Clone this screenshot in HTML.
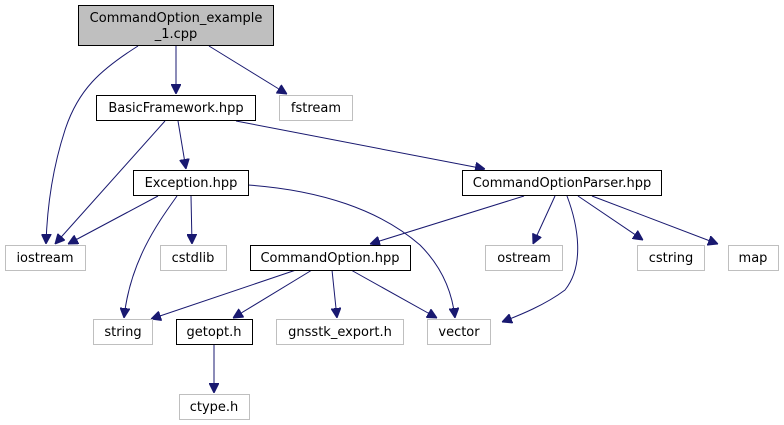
<!DOCTYPE html>
<html><head><meta charset="utf-8"><style>
html,body{margin:0;padding:0;background:#fff;}
svg{display:block;}
text{font-family:"DejaVu Sans","Liberation Sans",sans-serif;font-size:13px;fill:#000;}
</style></head><body>
<svg width="784" height="425" viewBox="0 0 784 425" xmlns="http://www.w3.org/2000/svg">
<defs>
<marker id="a" viewBox="0 0 10 10" refX="10" refY="5" markerWidth="10" markerHeight="10" markerUnits="userSpaceOnUse" orient="auto">
<path d="M0,0 L10,5 L0,10 z" fill="#191970" stroke="#191970"/>
</marker>
</defs>
<g fill="none" stroke="#191970" stroke-width="1" marker-end="url(#a)">
<path d="M138,46 C100,70 78,90 65,130 C52,170 47,210 46,244"/>
<path d="M176,46 L176,94"/>
<path d="M209,46 L287,94"/>
<path d="M165,121 L55,244"/>
<path d="M178,121 L186,169"/>
<path d="M236,121 L485,169"/>
<path d="M158,196 L68,244"/>
<path d="M177,196 C160,220 130,260 124,318"/>
<path d="M191,196 L192,244"/>
<path d="M248,185 C320,190 380,210 420,245 C440,265 452,290 455,318"/>
<path d="M524,196 L370,244"/>
<path d="M555,196 L533,244"/>
<path d="M567,196 C578,225 585,265 565,290 C545,305 520,315 502,322"/>
<path d="M578,196 L643,240"/>
<path d="M592,196 L718,244"/>
<path d="M296,270 L151,319"/>
<path d="M312,270 L233,318"/>
<path d="M332,270 L337,318"/>
<path d="M351,270 L437,318"/>
<path d="M214,345 L214,393"/>
</g>
<g stroke-width="1">
<rect x="78.5" y="5.5" width="195" height="40" fill="#bfbfbf" stroke="#000"/>
<rect x="96.5" y="95.5" width="159" height="25" fill="#fff" stroke="#000"/>
<rect x="279.5" y="95.5" width="73" height="25" fill="#fff" stroke="#bfbfbf"/>
<rect x="133.5" y="170.5" width="115" height="25" fill="#fff" stroke="#000"/>
<rect x="462.5" y="170.5" width="199" height="25" fill="#fff" stroke="#000"/>
<rect x="5.5" y="245.5" width="80" height="25" fill="#fff" stroke="#bfbfbf"/>
<rect x="160.5" y="245.5" width="66" height="25" fill="#fff" stroke="#bfbfbf"/>
<rect x="250.5" y="245.5" width="160" height="25" fill="#fff" stroke="#000"/>
<rect x="485.5" y="245.5" width="77" height="25" fill="#fff" stroke="#bfbfbf"/>
<rect x="637.5" y="245.5" width="67" height="25" fill="#fff" stroke="#bfbfbf"/>
<rect x="728.5" y="245.5" width="50" height="25" fill="#fff" stroke="#bfbfbf"/>
<rect x="93.5" y="319.5" width="59" height="25" fill="#fff" stroke="#bfbfbf"/>
<rect x="176.5" y="319.5" width="76" height="25" fill="#fff" stroke="#000"/>
<rect x="276.5" y="319.5" width="127" height="25" fill="#fff" stroke="#bfbfbf"/>
<rect x="427.5" y="319.5" width="63" height="25" fill="#fff" stroke="#bfbfbf"/>
<rect x="179.5" y="394.5" width="70" height="25" fill="#fff" stroke="#bfbfbf"/>
</g>
<g text-anchor="middle">
<text x="176" y="22">CommandOption_example</text>
<text x="176" y="38">_1.cpp</text>
<text x="176" y="112">BasicFramework.hpp</text>
<text x="316" y="112">fstream</text>
<text x="191" y="187">Exception.hpp</text>
<text x="562" y="187">CommandOptionParser.hpp</text>
<text x="45" y="262">iostream</text>
<text x="193" y="262">cstdlib</text>
<text x="330" y="262">CommandOption.hpp</text>
<text x="524" y="262">ostream</text>
<text x="671" y="262">cstring</text>
<text x="753" y="262">map</text>
<text x="123" y="336">string</text>
<text x="214" y="336">getopt.h</text>
<text x="340" y="336">gnsstk_export.h</text>
<text x="459" y="336">vector</text>
<text x="214" y="411">ctype.h</text>
</g>
</svg>
</body></html>
